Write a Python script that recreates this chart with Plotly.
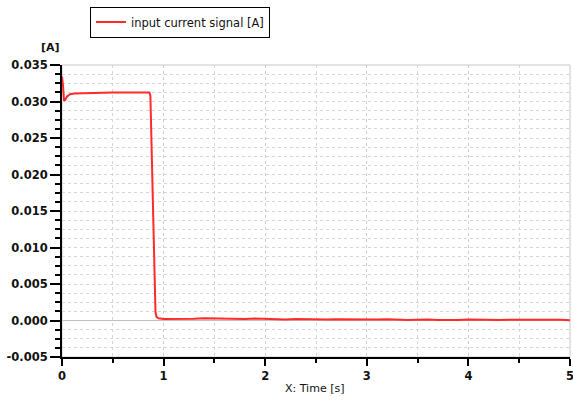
import plotly.graph_objects as go

# ---- data ----
time_s = [0.0, 0.01, 0.02, 0.03, 0.05, 0.08, 0.12, 0.2, 0.3, 0.5, 0.7, 0.86,
          0.87, 0.88, 0.9, 0.91, 0.92, 0.93, 0.95,
          1.0, 1.1, 1.2, 1.3, 1.4, 1.5, 1.6, 1.7, 1.8, 1.9,
          2.0, 2.1, 2.2, 2.3, 2.4, 2.5, 2.6, 2.7, 2.8, 2.9,
          3.0, 3.1, 3.2, 3.3, 3.4, 3.5, 3.6, 3.7, 3.8, 3.9,
          4.0, 4.1, 4.2, 4.3, 4.4, 4.5, 4.6, 4.7, 4.8, 4.9, 5.0]
current_a = [0.0334, 0.0322, 0.0301, 0.0302, 0.0307, 0.0310, 0.0311, 0.03115, 0.0312, 0.03125, 0.03125, 0.03125,
             0.0308, 0.0240, 0.0100, 0.0040, 0.0012, 0.0005, 0.0003,
             0.00022, 0.00020, 0.00022, 0.00024, 0.00030, 0.00028, 0.00018, 0.00017, 0.00020, 0.00026,
             0.00020, 0.00014, 0.00015, 0.00022, 0.00018, 0.00011, 0.00012, 0.00018, 0.00016, 0.00009,
             0.00008, 0.00012, 0.00016, 0.00010, 0.00006, 0.00009, 0.00014, 0.00008, 0.00005, 0.00008,
             0.00013, 0.00008, 0.00004, 0.00006, 0.00011, 0.00009, 0.00004, 0.00005, 0.00009, 0.00010, 0.00002]

series_name = "input current signal [A]"
y_unit = "[A]"
x_title = "X: Time [s]"
x_ticks = [0, 1, 2, 3, 4, 5]
y_ticks = [-0.005, 0.0, 0.005, 0.010, 0.015, 0.020, 0.025, 0.030, 0.035]

fig = go.Figure()
fig.add_trace(go.Scatter(x=time_s, y=current_a, mode="lines", name=series_name,
                         line=dict(color="#ff2a2a", width=2)))

tick_font = dict(family="DejaVu Sans", size=11.5, color="#111111", weight="bold")
grid_col = "#d6d6d6"

fig.update_layout(
    width=573, height=409,
    margin=dict(l=62, r=3, t=65, b=52, autoexpand=False),
    paper_bgcolor="white", plot_bgcolor="white",
    showlegend=True,
    legend=dict(x=0.055, y=1.2, xanchor="left", yanchor="top",
                bordercolor="black", borderwidth=1,
                font=dict(family="DejaVu Sans", size=11.5, color="#111111")),
    shapes=[dict(type="rect", xref="paper", yref="paper", x0=0, y0=0, x1=1, y1=1,
                 line=dict(color="#c8c8c8", width=1), layer="below")],
    annotations=[
        dict(text=y_unit, xref="paper", yref="paper", x=-0.045, y=1.09,
             showarrow=False, font=dict(family="DejaVu Sans", size=11, color="#111111", weight="bold")),
        dict(text=x_title, xref="paper", yref="paper", x=0.498, y=-0.137,
             showarrow=False, font=dict(family="DejaVu Sans", size=11, color="#111111")),
    ],
)

fig.update_xaxes(
    range=[0, 5], tickmode="array", tickvals=x_ticks, ticktext=[str(v) for v in x_ticks],
    ticks="outside", ticklen=7, tickwidth=2, tickcolor="black",
    ticklabeloverflow="allow", automargin=False,
    showline=True, linecolor="black", linewidth=2,
    showgrid=True, gridcolor="#cccccc", griddash="dot", gridwidth=1,
    zeroline=False, tickfont=tick_font,
    minor=dict(dtick=0.5, tick0=0, ticks="outside", ticklen=4, tickwidth=2, tickcolor="black",
               showgrid=True, gridcolor=grid_col, griddash="dot", gridwidth=1),
)
fig.update_yaxes(
    range=[-0.005, 0.035], tickmode="array", tickvals=y_ticks,
    ticktext=[f"{v:.3f}" for v in y_ticks],
    ticks="outside", ticklen=10, tickwidth=2, tickcolor="black",
    ticklabeloverflow="allow", automargin=False,
    showline=True, linecolor="black", linewidth=2,
    showgrid=True, gridcolor=grid_col, griddash="dot", gridwidth=1,
    zeroline=True, zerolinecolor="#c0c0c0", zerolinewidth=1,
    tickfont=tick_font,
    minor=dict(dtick=0.00125, tick0=0, ticks="outside", ticklen=5, tickwidth=2, tickcolor="black",
               showgrid=True, gridcolor=grid_col, griddash="dot", gridwidth=1),
)

fig.write_html("out.html")
